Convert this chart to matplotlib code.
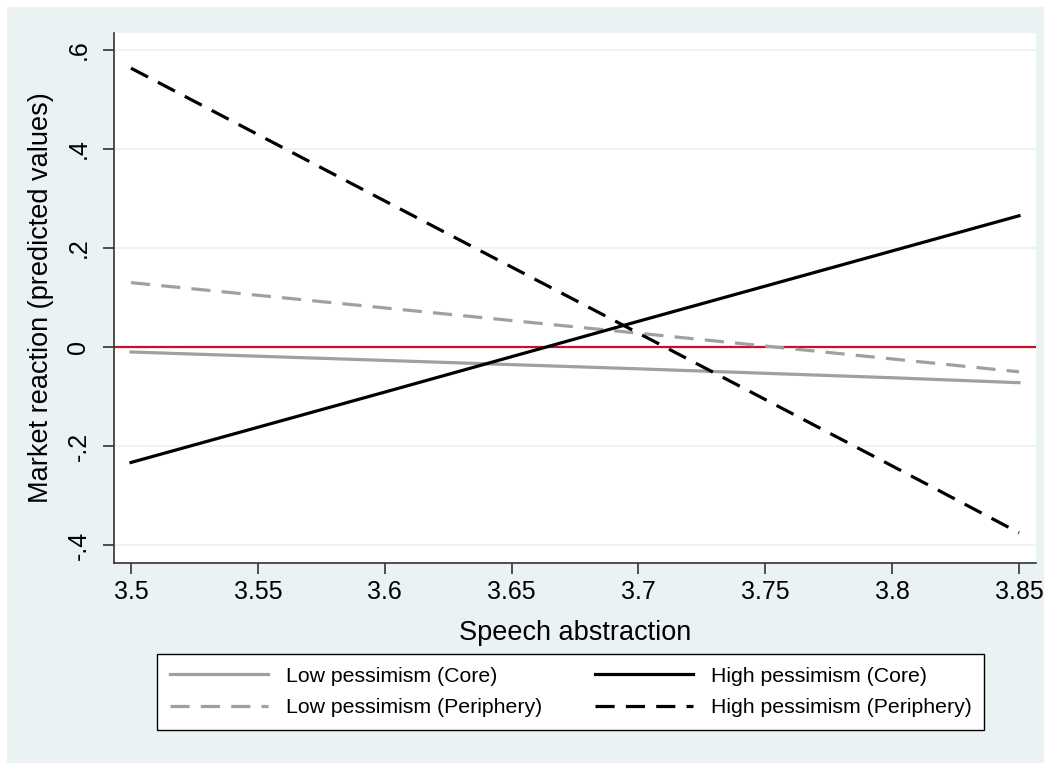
import matplotlib
matplotlib.use("Agg")
import matplotlib.pyplot as plt
from matplotlib.patches import Rectangle

plt.rcParams['font.family'] = ['Liberation Sans', 'DejaVu Sans']

# predicted values along the abstraction range
abstraction = [3.5, 3.6, 3.7, 3.8, 3.85]
low_core = [-0.010, -0.027, -0.044, -0.062, -0.072]
low_periphery = [0.130, 0.079, 0.028, -0.024, -0.050]
high_core = [-0.233, -0.091, 0.052, 0.194, 0.265]
high_periphery = [0.563, 0.295, 0.028, -0.240, -0.375]

xticks = [3.5, 3.55, 3.6, 3.65, 3.7, 3.75, 3.8, 3.85]
xtick_labels = ["3.5", "3.55", "3.6", "3.65", "3.7", "3.75", "3.8", "3.85"]
yticks = [-0.4, -0.2, 0, 0.2, 0.4, 0.6]
ytick_labels = ["-.4", "-.2", "0", ".2", ".4", ".6"]

bg = "#EAF2F3"
grey = "#A0A0A0"

fig = plt.figure(figsize=(10.51, 7.70), dpi=100, facecolor="white")
fig.patches.append(Rectangle((7 / 1051, 7 / 770), 1037 / 1051, 756 / 770,
                             transform=fig.transFigure, facecolor=bg,
                             edgecolor="none", zorder=-10))

ax = fig.add_axes([114 / 1051, 1 - 563 / 770, 922 / 1051, 530 / 770])
ax.set_facecolor("white")

dash = (6, 3.5)
ax.plot(abstraction, low_core, color=grey, lw=2.3, label="Low pessimism (Core)", zorder=3)
ax.plot(abstraction, low_periphery, color=grey, lw=2.3, dashes=dash,
        label="Low pessimism (Periphery)", zorder=3)
ax.plot(abstraction, high_core, color="black", lw=2.3, label="High pessimism (Core)", zorder=3)
ax.plot(abstraction, high_periphery, color="black", lw=2.3, dashes=dash,
        label="High pessimism (Periphery)", zorder=3)

ax.axhline(0, color="#C8102E", lw=1.6, zorder=2)
for yv in yticks:
    if yv != 0:
        ax.axhline(yv, color=bg, lw=1.2, zorder=1)

ax.set_xlim(3.4933, 3.8567)
ax.set_ylim(-0.436, 0.634)
ax.set_xticks(xticks)
ax.set_xticklabels(xtick_labels)
ax.set_yticks(yticks)
ax.set_yticklabels(ytick_labels, rotation=90, va="center")

for s in ["top", "right"]:
    ax.spines[s].set_visible(False)
for s in ["left", "bottom"]:
    ax.spines[s].set_color("#333333")
    ax.spines[s].set_linewidth(1.2)
ax.tick_params(axis="both", length=8, width=1.2, color="#333333", labelsize=18)
ax.tick_params(axis="x", pad=4)
ax.tick_params(axis="y", pad=9)

ax.set_xlabel("Speech abstraction", fontsize=19.5, labelpad=12)
ax.set_ylabel("Market reaction (predicted values)", fontsize=19.5, labelpad=9)

handles, labels = ax.get_legend_handles_labels()
leg = fig.legend(handles, labels, ncol=2, loc="upper left",
                 bbox_to_anchor=(157 / 1051, 1 - 654 / 770),
                 fontsize=15.3, handlelength=4.6, handletextpad=0.85,
                 columnspacing=2.5, frameon=True, fancybox=False,
                 borderaxespad=0, labelspacing=0.58, borderpad=0.6)
leg.get_frame().set_edgecolor("black")
leg.get_frame().set_linewidth(1.0)
leg.get_frame().set_facecolor("white")
leg.get_frame().set_alpha(1)

fig.savefig("out.png", dpi=100, facecolor="white")
